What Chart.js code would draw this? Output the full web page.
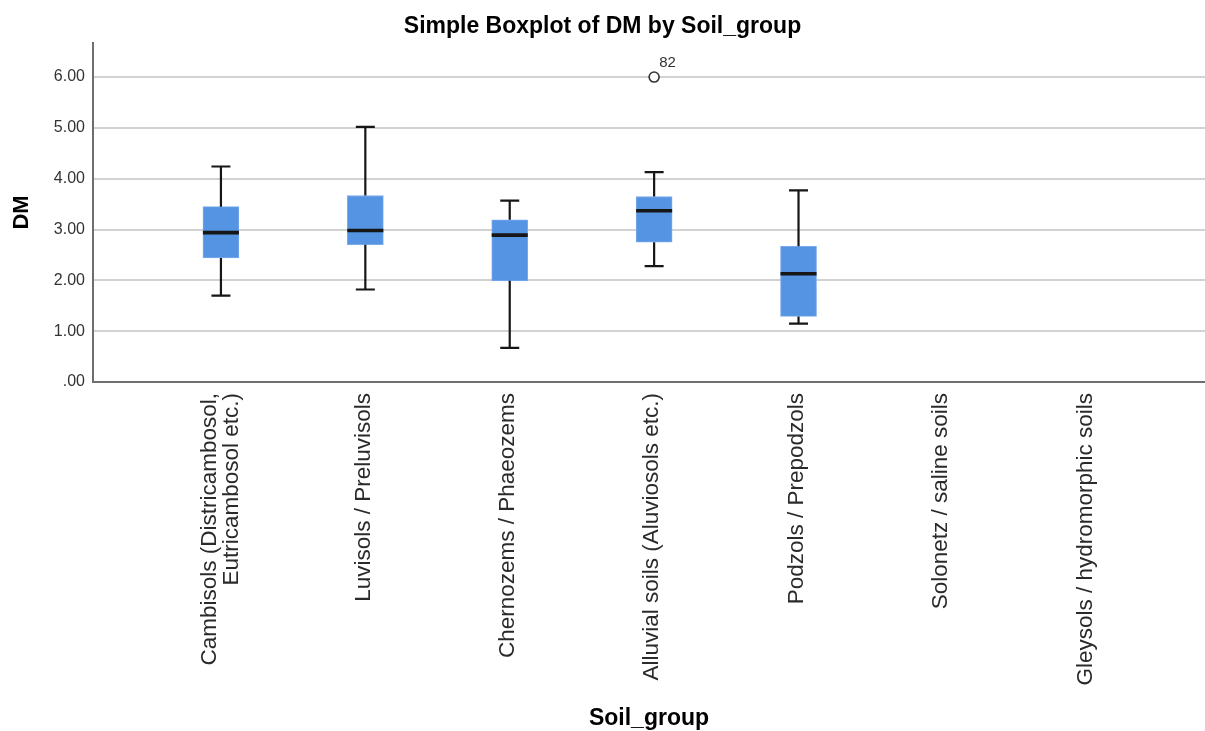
<!DOCTYPE html>
<html>
<head>
<meta charset="utf-8">
<title>Simple Boxplot of DM by Soil_group</title>
<script src="https://cdn.jsdelivr.net/npm/chart.js@4.4.1/dist/chart.umd.min.js"></script>
<style>
  html, body { margin: 0; padding: 0; background: #ffffff; overflow: hidden; }
  #wrap { width: 1205px; height: 731px; }
  canvas { display: block; }
</style>
</head>
<body>
<div id="wrap"><canvas id="chart" width="1205" height="731"></canvas></div>
<script>
// Soil groups on the category axis
const categories = [
  ['Cambisols (Districambosol,', 'Eutricambosol etc.)'],
  'Luvisols / Preluvisols',
  'Chernozems / Phaeozems',
  'Alluvial soils (Aluviosols etc.)',
  'Podzols / Prepodzols',
  'Solonetz / saline soils',
  'Gleysols / hydromorphic soils'
];

// Five-number summaries of DM per soil group (no cases for the last two)
const whiskerLow  = [1.70, 1.82, 0.67, 2.28, 1.15, null, null];
const q1          = [2.44, 2.70, 1.99, 2.75, 1.29, null, null];
const median      = [2.94, 2.98, 2.89, 3.37, 2.13, null, null];
const q3          = [3.45, 3.67, 3.19, 3.65, 2.67, null, null];
const whiskerHigh = [4.24, 5.02, 3.57, 4.13, 3.77, null, null];

// Outlying cases: group index, value, case number
const outlierGroup = [3];
const outlierValue = [6.00];
const outlierCase  = ['82'];

// Value axis ticks
const yTicks = [0, 1, 2, 3, 4, 5, 6];

const FONT = "'Liberation Sans', Arial, Helvetica, sans-serif";
const BOX_WIDTH = 36;
const CAP_WIDTH = 19;
const LABEL_SIZE = 22.5;
const LABEL_LINE = 22.7;

const boxData = categories.map((c, i) =>
  q1[i] == null ? null : { x: i, y: [q1[i], q3[i]] }
).filter(d => d !== null);

const outlierData = outlierGroup.map((g, k) => ({ x: g, y: outlierValue[k] }));

// Whiskers, medians, outlier labels and rotated category names
const boxplotParts = {
  id: 'boxplotParts',
  afterDatasetsDraw(chart) {
    const { ctx, scales: { x, y } } = chart;
    ctx.save();
    ctx.strokeStyle = '#161616';
    ctx.lineCap = 'butt';
    categories.forEach((c, i) => {
      if (q1[i] == null) return;
      const px = x.getPixelForValue(i);
      const yLo = y.getPixelForValue(whiskerLow[i]);
      const yQ1 = y.getPixelForValue(q1[i]);
      const yQ3 = y.getPixelForValue(q3[i]);
      const yHi = y.getPixelForValue(whiskerHigh[i]);
      const yMed = y.getPixelForValue(median[i]);

      ctx.lineWidth = 2.2;
      ctx.beginPath();
      ctx.moveTo(px, yQ3); ctx.lineTo(px, yHi);
      ctx.moveTo(px, yQ1); ctx.lineTo(px, yLo);
      ctx.moveTo(px - CAP_WIDTH / 2, yHi); ctx.lineTo(px + CAP_WIDTH / 2, yHi);
      ctx.moveTo(px - CAP_WIDTH / 2, yLo); ctx.lineTo(px + CAP_WIDTH / 2, yLo);
      ctx.stroke();

      ctx.lineWidth = 3.6;
      ctx.beginPath();
      ctx.moveTo(px - BOX_WIDTH / 2, yMed); ctx.lineTo(px + BOX_WIDTH / 2, yMed);
      ctx.stroke();
    });

    ctx.fillStyle = '#333333';
    ctx.font = '15px ' + FONT;
    ctx.textAlign = 'left';
    ctx.textBaseline = 'alphabetic';
    outlierGroup.forEach((g, k) => {
      const px = x.getPixelForValue(g);
      const py = y.getPixelForValue(outlierValue[k]);
      ctx.fillText(outlierCase[k], px + 5, py - 10);
    });
    ctx.restore();
  },
  afterDraw(chart) {
    const { ctx, scales: { x } } = chart;
    ctx.save();
    ctx.fillStyle = '#2a2a2a';
    ctx.font = LABEL_SIZE + 'px ' + FONT;
    ctx.textAlign = 'right';
    ctx.textBaseline = 'middle';
    const top = x.top + 11;
    categories.forEach((c, i) => {
      const lines = Array.isArray(c) ? c : [c];
      const px = x.getPixelForValue(i) - (lines.length > 1 ? 0 : 2);
      const first = px - (lines.length - 1) * LABEL_LINE / 2;
      lines.forEach((line, k) => {
        ctx.save();
        ctx.translate(first + k * LABEL_LINE, top);
        ctx.rotate(-Math.PI / 2);
        ctx.fillText(line, 0, 0);
        ctx.restore();
      });
    });
    ctx.restore();
  }
};

new Chart(document.getElementById('chart'), {
  type: 'bar',
  data: {
    datasets: [
      {
        type: 'bar',
        data: boxData,
        backgroundColor: '#5594e2',
        borderColor: '#79aaec',
        borderWidth: 1,
        borderSkipped: false,
        barThickness: BOX_WIDTH,
        order: 2
      },
      {
        type: 'scatter',
        data: outlierData,
        pointRadius: 5,
        pointBackgroundColor: '#ffffff',
        pointBorderColor: '#333333',
        pointBorderWidth: 1.6,
        clip: false,
        order: 1
      }
    ]
  },
  options: {
    responsive: false,
    animation: false,
    devicePixelRatio: 1,
    layout: { padding: 0, autoPadding: false },
    plugins: {
      legend: { display: false },
      tooltip: { enabled: false },
      title: {
        display: true,
        text: 'Simple Boxplot of DM by Soil_group',
        color: '#000000',
        font: { family: FONT, size: 23, weight: 'bold', lineHeight: 1.2 },
        padding: { top: 12.5, bottom: 2.9 }
      }
    },
    scales: {
      x: {
        type: 'linear',
        offset: false,
        min: -0.886,
        max: 6.815,
        afterBuildTicks(scale) {
          scale.ticks = categories.map((c, i) => ({ value: i }));
        },
        afterFit(scale) { scale.height = 349; },
        grid: { display: false },
        border: { display: true, color: '#6e6e6e', width: 2 },
        ticks: { display: false },
        title: {
          display: true,
          text: 'Soil_group',
          color: '#000000',
          font: { family: FONT, size: 23, weight: 'bold', lineHeight: 1.0 },
          padding: { top: 0, bottom: 1 }
        }
      },
      y: {
        type: 'linear',
        min: 0,
        max: 6.67,
        afterBuildTicks(scale) {
          scale.ticks = yTicks.map(v => ({ value: v }));
        },
        afterFit(scale) { scale.width = 93; },
        grid: { color: '#d2d2d2', lineWidth: 2, drawTicks: false },
        border: { display: true, color: '#6e6e6e', width: 2 },
        ticks: {
          padding: 8,
          color: '#333333',
          font: { family: FONT, size: 16 },
          callback: (v) => v === 0 ? '.00' : Number(v).toFixed(2)
        },
        title: {
          display: true,
          text: 'DM',
          color: '#000000',
          font: { family: FONT, size: 22, weight: 'bold', lineHeight: 1.2 },
          padding: { top: 9, bottom: 0 }
        }
      }
    }
  },
  plugins: [boxplotParts]
});
</script>
</body>
</html>
